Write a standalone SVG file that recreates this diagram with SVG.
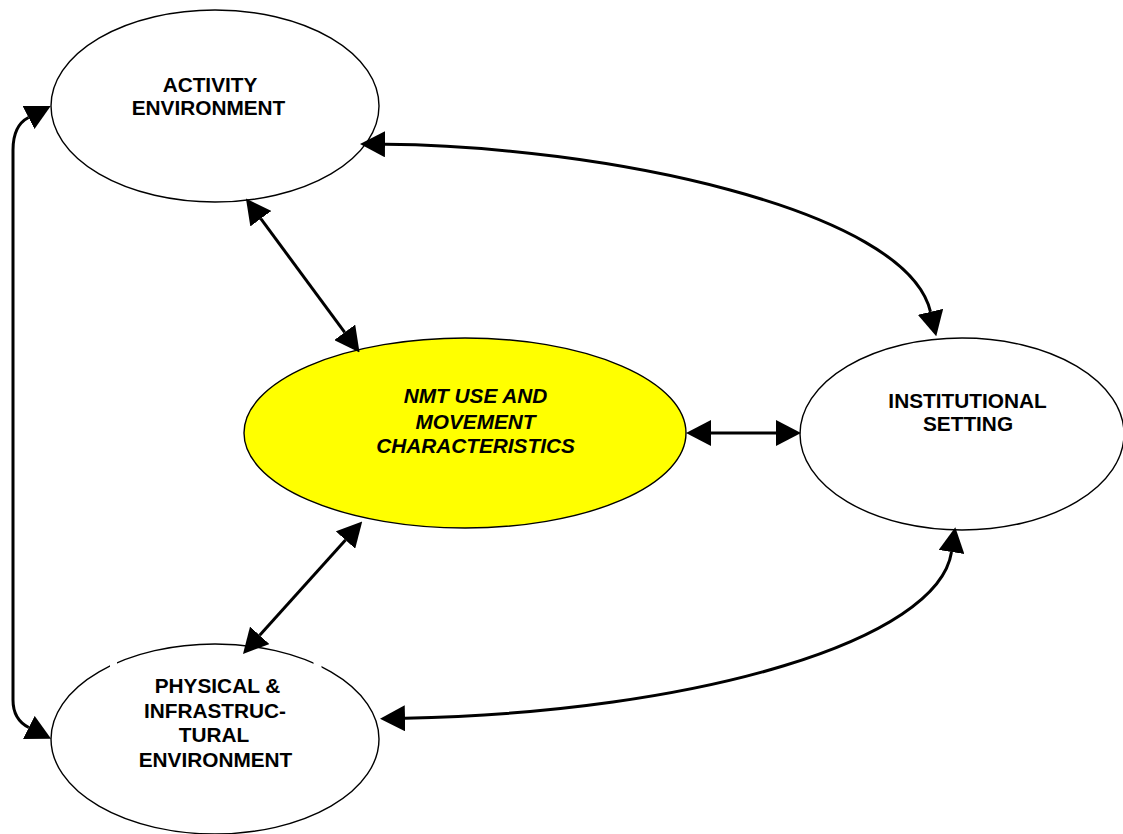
<svg xmlns="http://www.w3.org/2000/svg" width="1123" height="834" viewBox="0 0 1123 834">
  <style>
    .node { fill: #ffffff; stroke: #000000; stroke-width: 1.4; }
    .core { fill: #ffff00; stroke: #000000; stroke-width: 1.4; }
    .lbl { font-family: "Liberation Sans", Arial, sans-serif; font-size: 20.8px; font-weight: bold; fill: #000000; text-anchor: middle; }
    .it { font-style: italic; }
    .conn { fill: none; stroke: #000000; stroke-width: 3; marker-start: url(#ah); marker-end: url(#ah); }
  </style>
  <defs>
    <marker id="ah" markerUnits="userSpaceOnUse" viewBox="0 0 25 26" refX="0" refY="13" markerWidth="25" markerHeight="26" orient="auto-start-reverse">
      <path d="M0,0 L25,13 L0,26 Z" fill="#000000"/>
    </marker>
  </defs>
  <rect width="1123" height="834" fill="#ffffff"/>

  <g id="activity-environment">
    <ellipse class="node" cx="215" cy="106" rx="164" ry="96"/>
    <text class="lbl" x="210" y="92">ACTIVITY</text>
    <text class="lbl" x="208.5" y="115">ENVIRONMENT</text>
  </g>

  <g id="nmt-use">
    <ellipse class="core" cx="465" cy="433" rx="221" ry="95"/>
    <text class="lbl it" x="475.5" y="402.7">NMT USE AND</text>
    <text class="lbl it" x="475.5" y="429">MOVEMENT</text>
    <text class="lbl it" x="475.5" y="453.3">CHARACTERISTICS</text>
  </g>

  <g id="institutional-setting">
    <ellipse class="node" cx="962" cy="434" rx="162" ry="96"/>
    <text class="lbl" x="967.5" y="407.7">INSTITUTIONAL</text>
    <text class="lbl" x="968" y="431">SETTING</text>
  </g>

  <g id="physical-environment">
    <ellipse class="node" cx="215" cy="739" rx="164" ry="95"/>
    <rect x="110" y="659" width="7" height="10" fill="#ffffff"/>
    <rect x="313.5" y="659" width="8" height="10" fill="#ffffff"/>
    <text class="lbl" x="217.5" y="692.7">PHYSICAL &amp;</text>
    <text class="lbl" x="215" y="718.3">INFRASTRUC-</text>
    <text class="lbl" x="214" y="742.3">TURAL</text>
    <text class="lbl" x="215.5" y="766.7">ENVIRONMENT</text>
  </g>

  <g id="connectors">
    <path class="conn" d="M28.5,117.5 Q13,125.5 13,150 L13,700 Q13,719.5 28.8,727.5"/>
    <path class="conn" d="M385,144.3 C600,146 906,208 930.5,311.8"/>
    <path class="conn" d="M405,718.3 C700,712 938,640 951.5,552"/>
    <path class="conn" d="M260.8,218.7 L344.7,332.3"/>
    <path class="conn" d="M345.5,540 L259.7,635.3"/>
    <path class="conn" d="M711,433 L776,433"/>
  </g>
</svg>
